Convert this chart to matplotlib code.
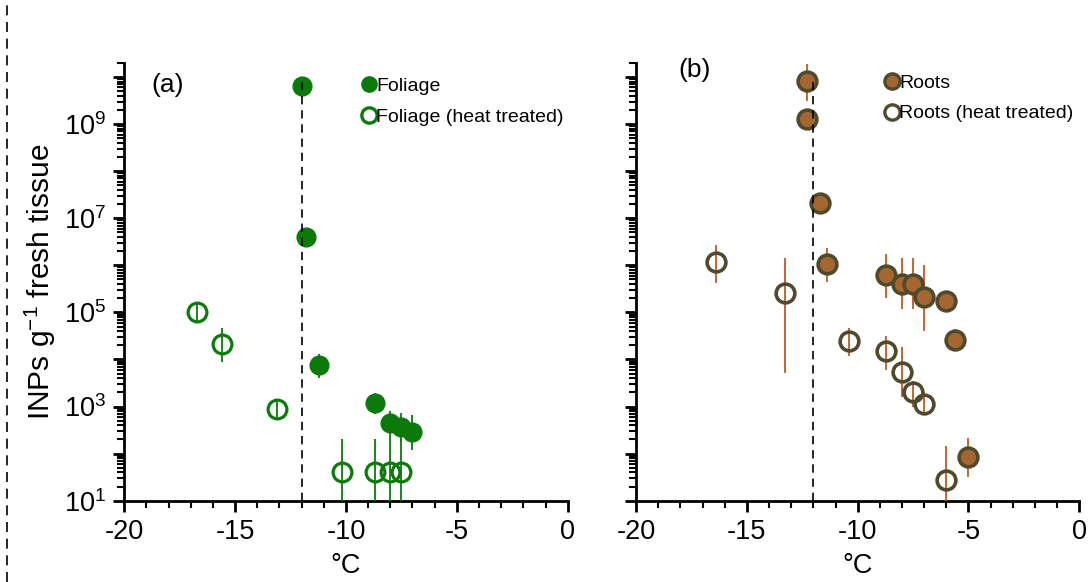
import numpy as np
import matplotlib
matplotlib.use("Agg")
import matplotlib.pyplot as plt
from matplotlib.lines import Line2D
from matplotlib.ticker import LogLocator, MultipleLocator, NullFormatter, FuncFormatter

plt.rcParams["font.family"] = ["Liberation Sans", "DejaVu Sans"]
plt.rcParams["mathtext.fontset"] = "custom"
plt.rcParams["mathtext.rm"] = "Liberation Sans"
plt.rcParams["mathtext.it"] = "Liberation Sans:italic"

# panel (a): foliage
fol_x = [-12.0, -11.8, -11.2, -8.7, -8.0, -7.5, -7.0]
fol_y = [6.5e9, 3.9e6, 7.6e3, 1.2e3, 4.4e2, 3.6e2, 2.9e2]
fol_lo = [6.5e9, 3.9e6, 4.1e3, 7.0e2, 2.0e2, 1.8e2, 1.2e2]
fol_hi = [6.5e9, 3.9e6, 1.3e4, 1.9e3, 8.1e2, 7.2e2, 6.5e2]

folh_x = [-16.7, -15.6, -13.1, -10.2, -8.7, -8.0, -7.5]
folh_y = [1.0e5, 2.1e4, 8.7e2, 40, 40, 40, 40]
folh_lo = [6.2e4, 8.9e3, 5.1e2, 10, 10, 10, 10]
folh_hi = [1.5e5, 4.7e4, 1.3e3, 2.0e2, 2.0e2, 2.0e2, 2.0e2]

# panel (b): roots
root_x = [-12.3, -12.3, -11.7, -11.4, -8.7, -8.0, -7.5, -7.0, -6.0, -5.6, -5.0]
root_y = [8.1e9, 1.26e9, 2.1e7, 1.05e6, 6.2e5, 4.0e5, 4.0e5, 2.1e5, 1.75e5, 2.6e4, 86]
root_lo = [3.1e9, 1.26e9, 2.1e7, 4.4e5, 2.0e5, 1.2e5, 1.2e5, 4.0e4, 1.0e5, 1.5e4, 32]
root_hi = [1.9e10, 1.26e9, 2.1e7, 2.3e6, 1.7e6, 1.4e6, 1.4e6, 1.0e6, 2.5e5, 4.5e4, 2.1e2]

rooth_x = [-16.4, -13.3, -10.4, -8.7, -8.0, -7.5, -7.0, -6.0]
rooth_y = [1.15e6, 2.6e5, 2.5e4, 1.5e4, 5.4e3, 2.0e3, 1.15e3, 27]
rooth_lo = [4.2e5, 5.2e3, 1.2e4, 6.0e3, 1.6e3, 9.8e2, 6.6e2, 10]
rooth_hi = [2.75e6, 1.4e6, 4.7e4, 3.2e4, 1.8e4, 3.5e3, 2.0e3, 1.45e2]

threshold = -12

green = "#0b7a0b"
brown = "#a5672f"
brown_edge = "#4f4a2e"
bar_brown = "#bd5a22"


def yerr(y, lo, hi):
    y = np.asarray(y)
    return [y - np.asarray(lo), np.asarray(hi) - y]


def sup_fmt(v, pos):
    e = int(round(np.log10(v)))
    if e % 2 == 1:
        return r"10$^{%d}$" % e
    return ""


fig = plt.figure(figsize=(10.9, 5.82), dpi=100)
ax1 = fig.add_axes([0.114, 0.1397, 0.4068, 0.7523])
ax2 = fig.add_axes([0.5835, 0.1397, 0.4067, 0.7523])

ax1.errorbar(folh_x, folh_y, yerr=yerr(folh_y, folh_lo, folh_hi), fmt="o", ms=13.5,
             mfc="none", mec=green, mew=2.3, ecolor=green, elinewidth=1.3, capsize=0, zorder=3)
ax1.errorbar(fol_x, fol_y, yerr=yerr(fol_y, fol_lo, fol_hi), fmt="o", ms=13.5,
             mfc=green, mec=green, mew=1, ecolor=green, elinewidth=1.3, capsize=0, zorder=3)

ax2.errorbar(rooth_x, rooth_y, yerr=yerr(rooth_y, rooth_lo, rooth_hi), fmt="o", ms=13.5,
             mfc="none", mec=brown_edge, mew=2.6, ecolor=bar_brown, elinewidth=1.3, capsize=0, zorder=3)
ax2.errorbar(root_x, root_y, yerr=yerr(root_y, root_lo, root_hi), fmt="o", ms=13.5,
             mfc=brown, mec=brown_edge, mew=2.6, ecolor=bar_brown, elinewidth=1.3, capsize=0, zorder=3)

for ax in (ax1, ax2):
    ax.set_yscale("log")
    ax.set_xlim(-20, 0)
    ax.set_ylim(10, 2e10)
    ax.plot([threshold, threshold], [10, 1e10], color="black", lw=1.2,
            ls=(0, (5, 3.5)), zorder=4)
    ax.spines["top"].set_visible(False)
    ax.spines["right"].set_visible(False)
    ax.spines["left"].set_linewidth(2)
    ax.spines["bottom"].set_linewidth(2)
    ax.xaxis.set_major_locator(MultipleLocator(5))
    ax.xaxis.set_minor_locator(MultipleLocator(1))
    ax.yaxis.set_major_locator(LogLocator(base=10, numticks=20))
    ax.yaxis.set_minor_locator(LogLocator(base=10, subs=np.arange(2, 10), numticks=20))
    ax.yaxis.set_minor_formatter(NullFormatter())
    ax.tick_params(axis="both", which="major", direction="out", length=8, width=2,
                   labelsize=19.5, pad=5)
    ax.tick_params(axis="both", which="minor", direction="out", length=5, width=1.5)
    ax.set_xticks([-20, -15, -10, -5, 0])
    ax.set_xticklabels(["-20", "-15", "-10", "-5", "0"])
    ax.set_xlabel("°C", fontsize=19.5, labelpad=6)

ax1.yaxis.set_major_formatter(FuncFormatter(sup_fmt))
ax2.yaxis.set_major_formatter(NullFormatter())
ax1.set_ylabel("INPs g$^{-1}$ fresh tissue", fontsize=21.5, labelpad=4)

ax1.text(0.062, 0.949, "(a)", transform=ax1.transAxes, fontsize=19, va="center")
ax2.text(0.095, 0.983, "(b)", transform=ax2.transAxes, fontsize=19, va="center")

h1 = [Line2D([], [], ls="none", marker="o", ms=11, mfc=green, mec=green, mew=1),
      Line2D([], [], ls="none", marker="o", ms=11, mfc="none", mec=green, mew=2.4)]
ax1.legend(h1, ["Foliage", "Foliage (heat treated)"], loc="upper left",
           bbox_to_anchor=(0.516, 0.99), frameon=False, fontsize=14,
           handlelength=0.65, handletextpad=0.05, labelspacing=0.72, borderpad=0)

h2 = [Line2D([], [], ls="none", marker="o", ms=11, mfc=brown, mec=brown_edge, mew=2.4),
      Line2D([], [], ls="none", marker="o", ms=11, mfc="none", mec=brown_edge, mew=2.4)]
ax2.legend(h2, ["Roots", "Roots (heat treated)"], loc="upper left",
           bbox_to_anchor=(0.541, 0.997), frameon=False, fontsize=14,
           handlelength=0.65, handletextpad=0.05, labelspacing=0.68, borderpad=0)

fig.add_artist(Line2D([0.0065, 0.0065], [0, 1], transform=fig.transFigure,
                      color="black", lw=1.2, ls=(0, (6, 4))))

fig.savefig("out.png", dpi=100)
